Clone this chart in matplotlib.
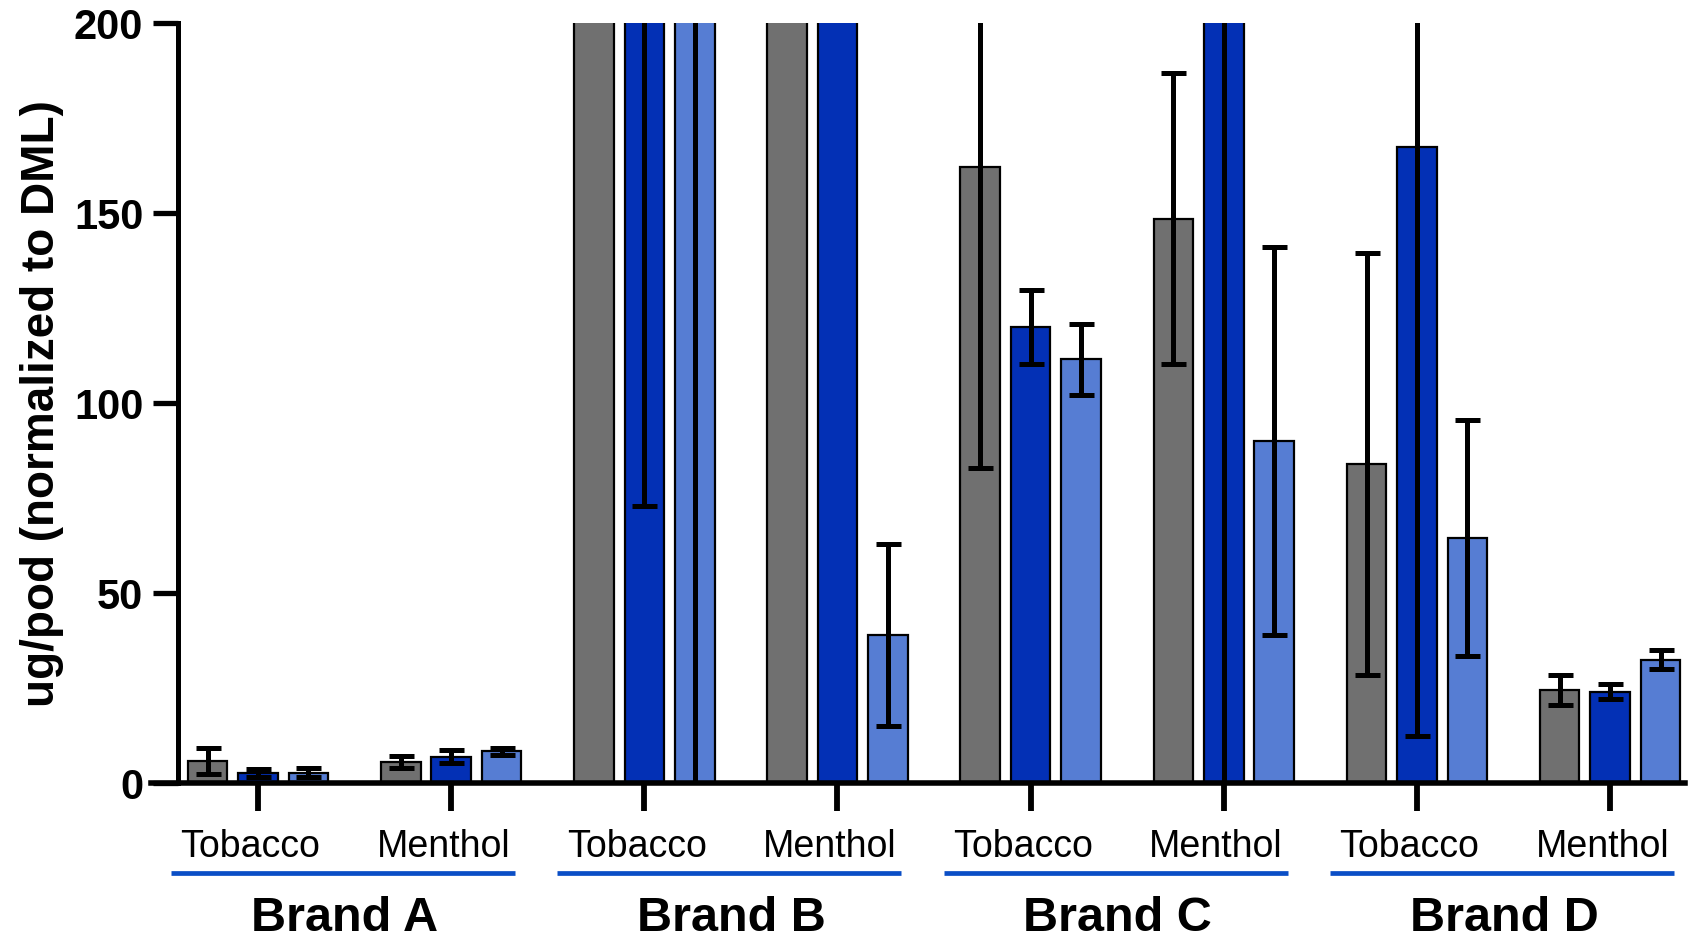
import numpy as np
import matplotlib.pyplot as plt

plt.rcParams['font.family'] = ['Liberation Sans', 'DejaVu Sans']

brands = ["Brand A", "Brand B", "Brand C", "Brand D"]
flavors = ["Tobacco", "Menthol"]

# means and SD for the three conditions, one entry per brand/flavour
# order: A-Tob, A-Men, B-Tob, B-Men, C-Tob, C-Men, D-Tob, D-Men
grey_mean = [5.8, 5.5, 265.0, 280.0, 162.0, 148.5, 84.0, 24.5]
grey_sd = [3.3, 1.5, 45.0, 50.0, 79.0, 38.3, 55.6, 4.0]
dark_mean = [2.7, 6.9, 260.0, 300.0, 120.0, 240.0, 167.5, 24.0]
dark_sd = [1.1, 1.7, 187.0, 60.0, 9.7, 250.0, 155.0, 2.0]
light_mean = [2.7, 8.3, 230.0, 39.0, 111.5, 90.0, 64.5, 32.5]
light_sd = [1.2, 0.9, 240.0, 24.0, 9.3, 51.0, 31.0, 2.6]

series = [
    (grey_mean, grey_sd, "#707070"),
    (dark_mean, dark_sd, "#0330B5"),
    (light_mean, light_sd, "#567DD3"),
]

fig = plt.figure(figsize=(17.06, 9.4), dpi=100)
ax = fig.add_axes([0.0885, 0.167, 0.899, 0.8085])

x = np.arange(len(grey_mean))
offset = 0.261
width = 0.205
for k, (m, sd, col) in enumerate(series):
    bars = ax.bar(x + (k - 1) * offset, m, width, yerr=sd, color=col,
                  edgecolor="black", linewidth=1.6, zorder=2,
                  error_kw=dict(elinewidth=3.6, capsize=9, capthick=3.6,
                                ecolor="black", zorder=3))
    for ln in bars.errorbar.lines[2]:
        ln.set_capstyle("round")

ax.set_xlim(-0.554, 7.386)
ax.set_ylim(0, 200)

for side in ["top", "right"]:
    ax.spines[side].set_visible(False)
ax.spines["left"].set_position(("data", -0.414))
ax.spines["left"].set_linewidth(3.6)
ax.spines["bottom"].set_linewidth(4.0)
ax.spines["left"].set_capstyle("projecting")

ax.set_yticks([0, 50, 100, 150, 200])
ax.tick_params(axis="y", length=18, width=3.8, pad=7, labelsize=30)
for lab in ax.get_yticklabels():
    lab.set_fontweight("bold")
ax.set_xticks(x)
ax.set_xticklabels([])
ax.tick_params(axis="x", length=20, width=4.2)

# flavour labels under each tick, brand underline and brand name
trans = ax.get_xaxis_transform()
for i in x:
    ax.text(i - 0.04, -0.0845, flavors[i % 2], transform=trans,
            ha="center", va="center", fontsize=27)
for b, name in enumerate(brands):
    x0 = 2 * b
    ax.plot([x0 - 0.45, x0 + 1.33], [-0.118, -0.118], transform=trans,
            color="#0A4EC6", linewidth=3.4, clip_on=False,
            solid_capstyle="butt")
    ax.text(x0 + 0.45, -0.178, name, transform=trans, ha="center",
            va="center", fontsize=35, fontweight="bold")

fig.text(42 / 1706, 1 - 404 / 940, "ug/pod (normalized to DML)",
         rotation=90, ha="center", va="center", fontsize=33,
         fontweight="bold")

fig.savefig("out.png", dpi=100)
